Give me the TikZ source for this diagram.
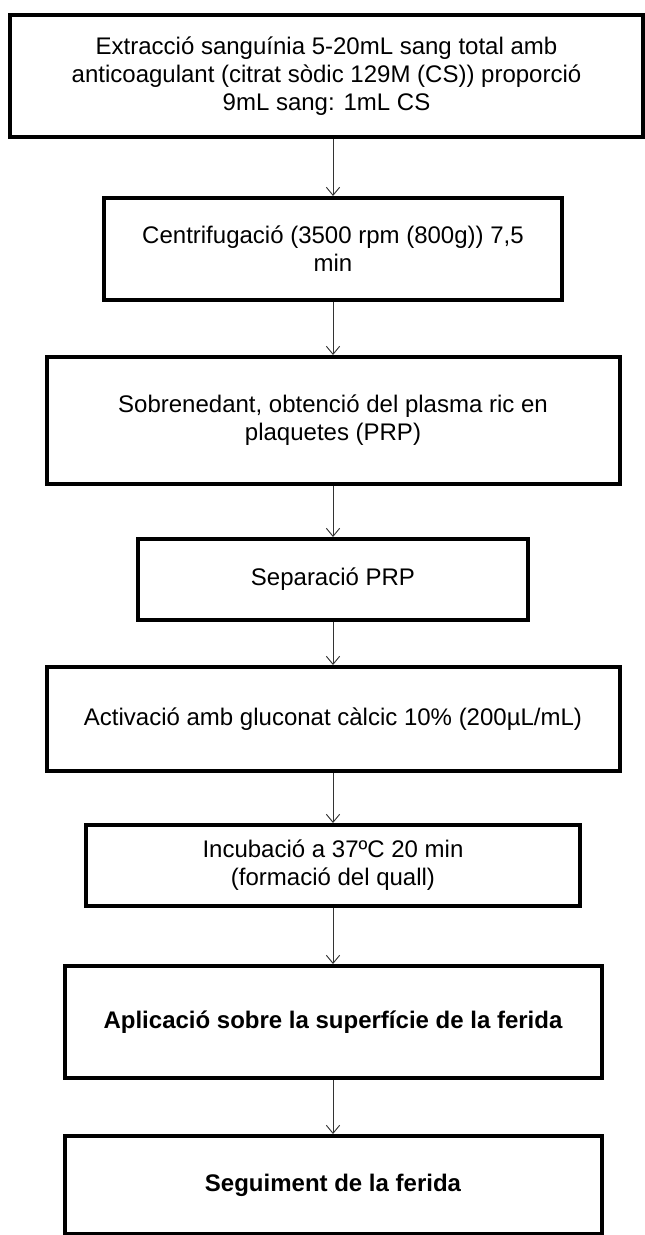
\documentclass[tikz,border=0pt]{standalone}
\usepackage{fontspec}
\setmainfont{Liberation Sans}
\usetikzlibrary{arrows.meta}
\begin{document}
\begin{tikzpicture}[x=0.75pt, y=-0.75pt,
    stepbox/.style={draw, line width=3pt, align=center, inner sep=0pt,
        font=\fontsize{18}{21}\selectfont},
    flow/.style={-{Straight Barb[length=6pt, width=10pt]}, line width=0.7pt, black!80}]
    \useasboundingbox (0,0) rectangle (645,1235);

    \node[stepbox, minimum width=633*0.75pt, minimum height=122*0.75pt] (extr) at (326.5,76)
        {Extracció sanguínia 5-20mL sang total amb\\anticoagulant (citrat sòdic 129M (CS)) proporció\\9mL sang: 1mL CS};
    \node[stepbox, minimum width=458*0.75pt, minimum height=102*0.75pt] (cent) at (333,249)
        {Centrifugació (3500 rpm (800g)) 7,5\\min};
    \node[stepbox, minimum width=573*0.75pt, minimum height=127*0.75pt] (sobr) at (333,420.5)
        {Sobrenedant, obtenció del plasma ric en\\plaquetes (PRP)};
    \node[stepbox, minimum width=390*0.75pt, minimum height=81*0.75pt] (sepa) at (333,579.5)
        {Separació PRP};
    \node[stepbox, minimum width=573*0.75pt, minimum height=104*0.75pt] (activ) at (333,719)
        {Activació amb gluconat càlcic 10\% (200µL/mL)};
    \node[stepbox, minimum width=494*0.75pt, minimum height=81*0.75pt] (incub) at (333,865.5)
        {Incubació a 37ºC 20 min\\(formació del quall)};
    \node[stepbox, minimum width=537*0.75pt, minimum height=112*0.75pt, font=\fontsize{18}{21}\selectfont\bfseries] (aplic) at (333,1022)
        {Aplicació sobre la superfície de la ferida};
    \node[stepbox, minimum width=537*0.75pt, minimum height=98*0.75pt, font=\fontsize{18}{21}\selectfont\bfseries] (segu) at (333,1185)
        {Seguiment de la ferida};

    \draw[flow] (extr.south -| cent.north) -- (cent.north);
    \draw[flow] (cent) -- (sobr);
    \draw[flow] (sobr) -- (sepa);
    \draw[flow] (sepa) -- (activ);
    \draw[flow] (activ) -- (incub);
    \draw[flow] (incub) -- (aplic);
    \draw[flow] (aplic) -- (segu);
\end{tikzpicture}
\end{document}
